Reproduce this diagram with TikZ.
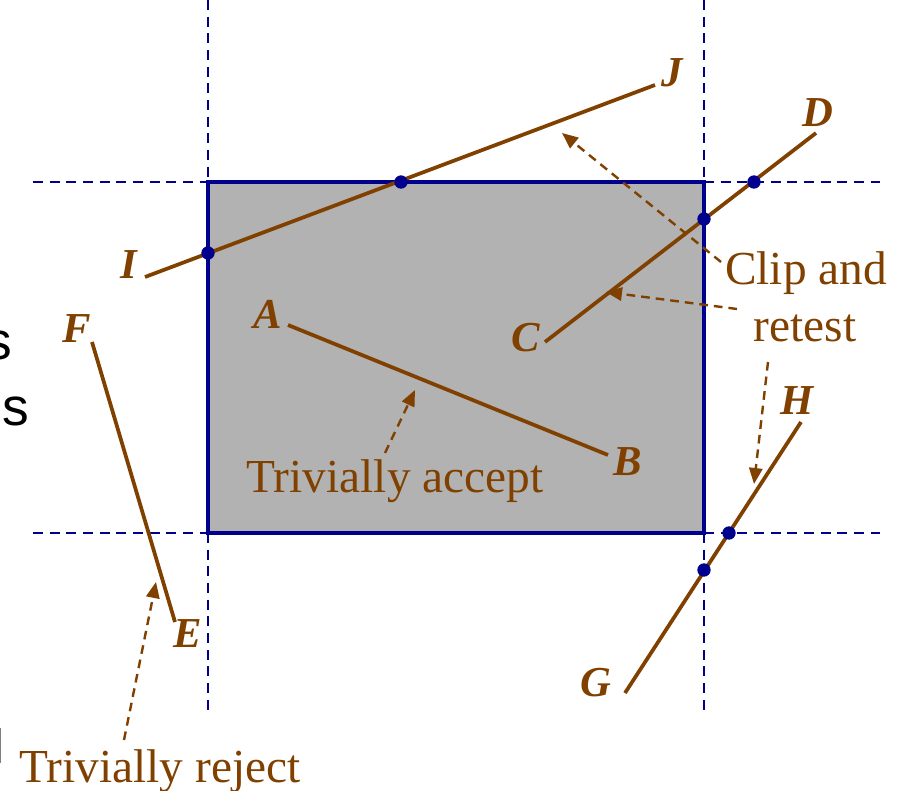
\documentclass[tikz,border=0pt]{standalone}
\usepackage{fontspec}
\setmainfont{Liberation Serif}
\setsansfont{Liberation Sans}
\usetikzlibrary{arrows.meta}
\definecolor{brn}{RGB}{128,64,0}
\definecolor{nvy}{RGB}{0,0,140}
\definecolor{fillg}{RGB}{178,178,178}
\begin{document}
\begin{tikzpicture}[x=0.75pt,y=-0.75pt,
  guide/.style={nvy, line width=1.7pt, dash pattern=on 7.5pt off 5pt},
  seg/.style={brn, line width=2.8pt},
  winbox/.style={draw=nvy, fill=fillg, line width=3.6pt},
  hit/.style={circle, fill=nvy, inner sep=0pt, minimum size=10pt},
  lbl/.style={text=brn, font=\fontsize{32}{32}\selectfont\bfseries\itshape, inner sep=0pt},
  note/.style={text=brn, font=\fontsize{35.5}{40}\selectfont, inner sep=0pt, anchor=base},
  cut/.style={text=black, font=\fontsize{40}{44}\selectfont\sffamily, inner sep=0pt, anchor=base east},
  callout/.style={brn, line width=1.8pt, dash pattern=on 6.5pt off 4.5pt, -{Triangle[length=12pt,width=10pt]}}]
\clip (0,0) rectangle (900,791);
\fill[white] (0,0) rectangle (900,791);
% window
\draw[winbox] (208,182) rectangle (704,533);
% guide lines
\coordinate (h1a) at (33,182); \coordinate (h1b) at (880,182);
\coordinate (h2a) at (33,533); \coordinate (h2b) at (880,533);
\coordinate (v1a) at (208,0); \coordinate (v1b) at (208,710);
\coordinate (v2a) at (704,0); \coordinate (v2b) at (704,710);
\draw[guide] (h1a) -- (208,182);
\draw[guide] (704,182) -- (h1b);
\draw[guide] (h2a) -- (208,533);
\draw[guide] (704,533) -- (h2b);
\draw[guide] (v1a) -- (208,182);
\draw[guide] (208,533) -- (v1b);
\draw[guide] (v2a) -- (704,182);
\draw[guide] (704,533) -- (v2b);
% segment end points
\coordinate (pA) at (288,325); \coordinate (pB) at (608,455);
\coordinate (pC) at (545,342); \coordinate (pD) at (816,133);
\coordinate (pE) at (175,622); \coordinate (pF) at (92,342);
\coordinate (pG) at (625,693); \coordinate (pH) at (801,422);
\coordinate (pI) at (145,277); \coordinate (pJ) at (655,85);
\draw[seg] (pA) -- (pB);
\draw[seg] (pC) -- (pD);
\draw[seg] (pF) -- (pE);
\draw[seg] (pG) -- (pH);
\draw[seg] (pI) -- (pJ);
% intersection dots
\node[hit] (d1) at (208,253) {};
\node[hit] (d2) at (401,182) {};
\node[hit] (d3) at (704,219) {};
\node[hit] (d4) at (754,182) {};
\node[hit] (d5) at (729,533) {};
\node[hit] (d6) at (704,570) {};
% letter labels
\node[lbl] (lA) at (268,314) {A};
\node[lbl] (lB) at (628,462) {B};
\node[lbl] (lC) at (526,338) {C};
\node[lbl] (lD) at (818,113) {D};
\node[lbl] (lE) at (188,634) {E};
\node[lbl] (lF) at (77,329) {F};
\node[lbl] (lG) at (596,683) {G};
\node[lbl] (lH) at (797,401) {H};
\node[lbl] (lI) at (129,265) {I};
\node[lbl] (lJ) at (672,73) {J};
% notes
\node[note] (acc) at (395,493) {Trivially accept};
\node[note] (rej) at (160,782) {Trivially reject};
\node[note] (clip) at (806,285) {Clip and};
\node[note] (retest) at (805,342) {retest};
% callout arrows
\coordinate (aacc0) at (385,453); \coordinate (aacc1) at (415,390);
\coordinate (arej0) at (124,740); \coordinate (arej1) at (156,582);
\coordinate (ac10) at (721,262); \coordinate (ac11) at (562,133);
\coordinate (ac20) at (737,309); \coordinate (ac21) at (606,292);
\coordinate (ac30) at (768,362); \coordinate (ac31) at (754,484);
\draw[callout] (aacc0) -- (aacc1);
\draw[callout] (arej0) -- (arej1);
\draw[callout] (ac10) -- (ac11);
\draw[callout] (ac20) -- (ac21);
\draw[callout] (ac30) -- (ac31);
% cut-off text at the left edge
\node[cut] (cs1) at (12,360) {s};
\node[cut] (cs2) at (29,426) {ss};
\coordinate (gb0) at (0.6,728); \coordinate (gb1) at (0.6,763);
\draw[gray, line width=1.2pt] (gb0) -- (gb1);
\end{tikzpicture}
\end{document}
